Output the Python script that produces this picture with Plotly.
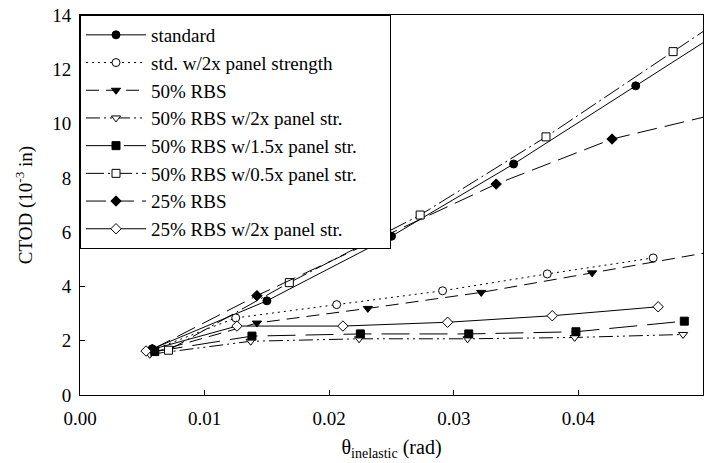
import plotly.graph_objects as go

# ---- data ----
names = [
    "standard",
    "std. w/2x panel strength",
    "50% RBS",
    "50% RBS w/2x panel str.",
    "50% RBS w/1.5x panel str.",
    "50% RBS w/0.5x panel str.",
    "25% RBS",
    "25% RBS w/2x panel str.",
]

x_standard = [0.0058, 0.0150, 0.0250, 0.0348, 0.0446, 0.0545]
y_standard = [1.70, 3.47, 5.85, 8.51, 11.39, 14.30]

x_std2x = [0.0058, 0.0125, 0.0206, 0.0291, 0.0375, 0.0460]
y_std2x = [1.65, 2.84, 3.33, 3.84, 4.46, 5.05]

x_rbs50 = [0.0057, 0.0142, 0.0231, 0.0322, 0.0411, 0.0510]
y_rbs50 = [1.55, 2.65, 3.19, 3.78, 4.50, 5.30]

x_rbs50_2x = [0.0056, 0.0137, 0.0224, 0.0311, 0.0397, 0.0484]
y_rbs50_2x = [1.50, 1.98, 2.07, 2.07, 2.12, 2.23]

x_rbs50_15x = [0.0060, 0.0138, 0.0225, 0.0312, 0.0398, 0.0485]
y_rbs50_15x = [1.60, 2.17, 2.25, 2.25, 2.33, 2.72]

x_rbs50_05x = [0.0071, 0.0168, 0.0273, 0.0374, 0.0476, 0.0578]
y_rbs50_05x = [1.65, 4.14, 6.63, 9.51, 12.65, 15.79]

x_rbs25 = [0.0058, 0.0142, 0.0238, 0.0334, 0.0427, 0.0520]
y_rbs25 = [1.68, 3.66, 5.72, 7.77, 9.43, 10.45]

x_rbs25_2x = [0.0053, 0.0126, 0.0211, 0.0295, 0.0379, 0.0464]
y_rbs25_2x = [1.62, 2.54, 2.54, 2.68, 2.92, 3.25]

x_ticks = [0.00, 0.01, 0.02, 0.03, 0.04, 0.05]
y_ticks = [0, 2, 4, 6, 8, 10, 12, 14]

series = [
    (x_standard, y_standard, "circle", "black", "solid"),
    (x_std2x, y_std2x, "circle", "white", "2px,4px"),
    (x_rbs50, y_rbs50, "triangle-down", "black", "13px,7px"),
    (x_rbs50_2x, y_rbs50_2x, "triangle-down", "white", "14px,4px,2px,4px,2px,4px"),
    (x_rbs50_15x, y_rbs50_15x, "square", "black", "28px,10px"),
    (x_rbs50_05x, y_rbs50_05x, "square", "white", "18px,4px,2px,4px"),
    (x_rbs25, y_rbs25, "diamond", "black", "20px,8px"),
    (x_rbs25_2x, y_rbs25_2x, "diamond", "white", "solid"),
]

FONT = "Liberation Serif, Times New Roman, serif"
PAD = "\u00a0" * 11  # widen the legend box like the reference

fig = go.Figure()
for i, (name, (xs, ys, sym, fill, dash)) in enumerate(zip(names, series)):
    label = name + PAD if i == 1 else name
    fig.add_trace(go.Scatter(
        x=xs, y=ys, name=label, mode="lines+markers",
        line=dict(color="black", width=1, dash=dash),
        marker=dict(symbol=sym, size=8, color=fill,
                    line=dict(color="black", width=1)),
        cliponaxis=True,
    ))

axis_common = dict(
    showgrid=False, zeroline=False, showline=True, linecolor="black",
    linewidth=1, mirror=True, ticks="inside", ticklen=5, tickcolor="black",
    tickfont=dict(family=FONT, size=19, color="black"),
    automargin=False,
)

fig.update_layout(
    width=717, height=463,
    margin=dict(l=80, r=14, t=15, b=68),
    paper_bgcolor="white", plot_bgcolor="white",
    font=dict(family=FONT, color="black"),
    showlegend=True,
    legend=dict(
        x=0, y=1, xanchor="left", yanchor="top",
        bgcolor="white", bordercolor="black", borderwidth=1,
        font=dict(family=FONT, size=19, color="black"),
        itemwidth=60, tracegroupgap=0,
    ),
    xaxis=dict(
        range=[0, 0.05], tickvals=x_ticks, tickformat=".2f",
        ticklabelstandoff=6,
        title=dict(text="θ<sub>inelastic</sub> (rad)",
                   font=dict(family=FONT, size=20, color="black"), standoff=12),
        **axis_common,
    ),
    yaxis=dict(
        range=[0, 14], tickvals=y_ticks,
        ticklabelstandoff=4,
        title=dict(text="CTOD (10<sup>-3</sup> in)",
                   font=dict(family=FONT, size=19, color="black"), standoff=14),
        **axis_common,
    ),
)

fig.write_html("out.html")
